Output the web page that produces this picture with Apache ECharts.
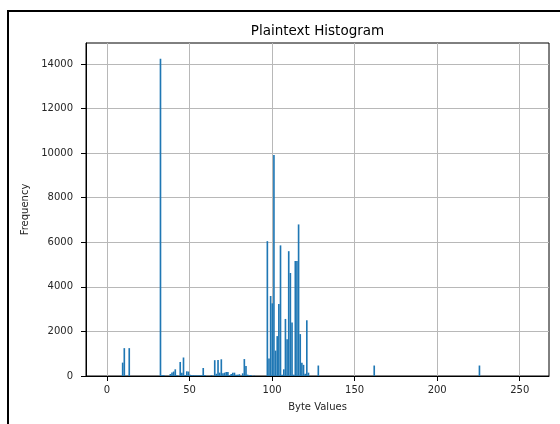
<!DOCTYPE html>
<html>
<head>
<meta charset="utf-8">
<title>Plaintext Histogram</title>
<script src="https://cdn.jsdelivr.net/npm/echarts@6.0.0/dist/echarts.min.js"></script>
<style>
  html, body { margin: 0; padding: 0; background: #fff; }
  #chart { width: 560px; height: 424px; }
</style>
</head>
<body>
<div id="chart"></div>
<script>
// non-empty histogram bins: byte value -> frequency
const byteValues = [
  9, 10, 13, 32, 33, 34, 38, 39, 40, 41, 42, 44, 45, 46, 47,
  48, 49, 50, 51, 52, 53, 54, 55, 56, 57, 58, 59, 63,
  65, 66, 67, 68, 69, 70, 71, 72, 73, 74, 75, 76, 77, 78, 79, 80,
  82, 83, 84, 85, 86, 87, 89,
  97, 98, 99, 100, 101, 102, 103, 104, 105, 106, 107, 108, 109, 110,
  111, 112, 113, 114, 115, 116, 117, 118, 119, 120, 121, 122,
  128, 162, 226
];
const counts = [
  600, 1250, 1250, 14228, 30, 40, 90, 160, 200, 300, 30, 630, 150, 830, 50,
  210, 200, 60, 40, 40, 30, 30, 30, 30, 30, 360, 40, 40,
  710, 100, 720, 150, 750, 120, 150, 180, 180, 30, 90, 150, 150, 60, 60, 80,
  120, 760, 450, 60, 30, 40, 20,
  6050, 790, 3590, 3260, 9915, 1140, 1790, 3230, 5860, 60, 300, 2560, 1650, 5600,
  4620, 2400, 60, 5160, 5160, 6800, 1880, 600, 500, 100, 2500, 150,
  470, 470, 470
];
const xTicks = [0, 50, 100, 150, 200, 250];
const yTicks = [0, 2000, 4000, 6000, 8000, 10000, 12000, 14000];

// 256 bins spread over 0..255
const binWidth = 255 / 256;
const font = "DejaVu Sans";
const textColor = "#262626";

const chart = echarts.init(document.getElementById("chart"));

const data = byteValues.map((b, i) => [b, counts[i]]);

const option = {
  animation: false,
  backgroundColor: "#fff",
  grid: {
    left: 86,
    right: 11,
    top: 43,
    bottom: 48,
    show: true,
    borderColor: "#000",
    borderWidth: 1,
    backgroundColor: "transparent",
  },
  graphic: [
    {
      type: "rect",
      shape: { x: 8, y: 11, width: 620, height: 500 },
      style: { fill: null, stroke: "#000", lineWidth: 2 },
      silent: true,
    },
    {
      type: "text",
      x: 317.5,
      y: 31,
      style: {
        text: "Plaintext Histogram",
        font: "13.5px " + font,
        fill: "#000",
        align: "center",
        verticalAlign: "middle",
      },
    },
  ],
  xAxis: {
    type: "value",
    min: -12.75,
    max: 267.75,
    name: "Byte Values",
    nameLocation: "middle",
    nameGap: 26,
    nameTextStyle: { fontFamily: font, fontSize: 10, color: textColor },
    axisLine: { show: true, onZero: false, lineStyle: { color: "#000", width: 1 } },
    axisTick: {
      show: true,
      customValues: xTicks,
      length: 5,
      lineStyle: { color: "#000" },
    },
    axisLabel: {
      customValues: xTicks,
      margin: 9,
      fontFamily: font,
      fontSize: 10,
      color: textColor,
    },
    splitLine: { show: true, lineStyle: { color: "#b8b8b8", width: 1 } },
  },
  yAxis: {
    type: "value",
    min: 0,
    max: 14940,
    name: "Frequency",
    nameLocation: "middle",
    nameGap: 52,
    nameTextStyle: { fontFamily: font, fontSize: 10, color: textColor },
    axisLine: { show: true, onZero: false, lineStyle: { color: "#000", width: 1 } },
    axisTick: {
      show: true,
      customValues: yTicks,
      length: 5,
      lineStyle: { color: "#000" },
    },
    axisLabel: {
      customValues: yTicks,
      margin: 13,
      fontFamily: font,
      fontSize: 10,
      color: textColor,
      formatter: (v) => String(v),
    },
    splitLine: { show: true, lineStyle: { color: "#b8b8b8", width: 1 } },
  },
  series: [
    {
      name: "Frequency",
      type: "custom",
      encode: { x: 0, y: 1 },
      data: data,
      renderItem: (params, api) => {
        const b = api.value(0);
        const c = api.value(1);
        const p0 = api.coord([b * binWidth, c]);
        const p1 = api.coord([(b + 1) * binWidth, 0]);
        return {
          type: "rect",
          shape: {
            x: p0[0],
            y: p0[1],
            width: p1[0] - p0[0],
            height: p1[1] - p0[1],
          },
          style: { fill: "#1f77b4" },
        };
      },
    },
  ],
};

chart.setOption(option);
</script>
</body>
</html>
